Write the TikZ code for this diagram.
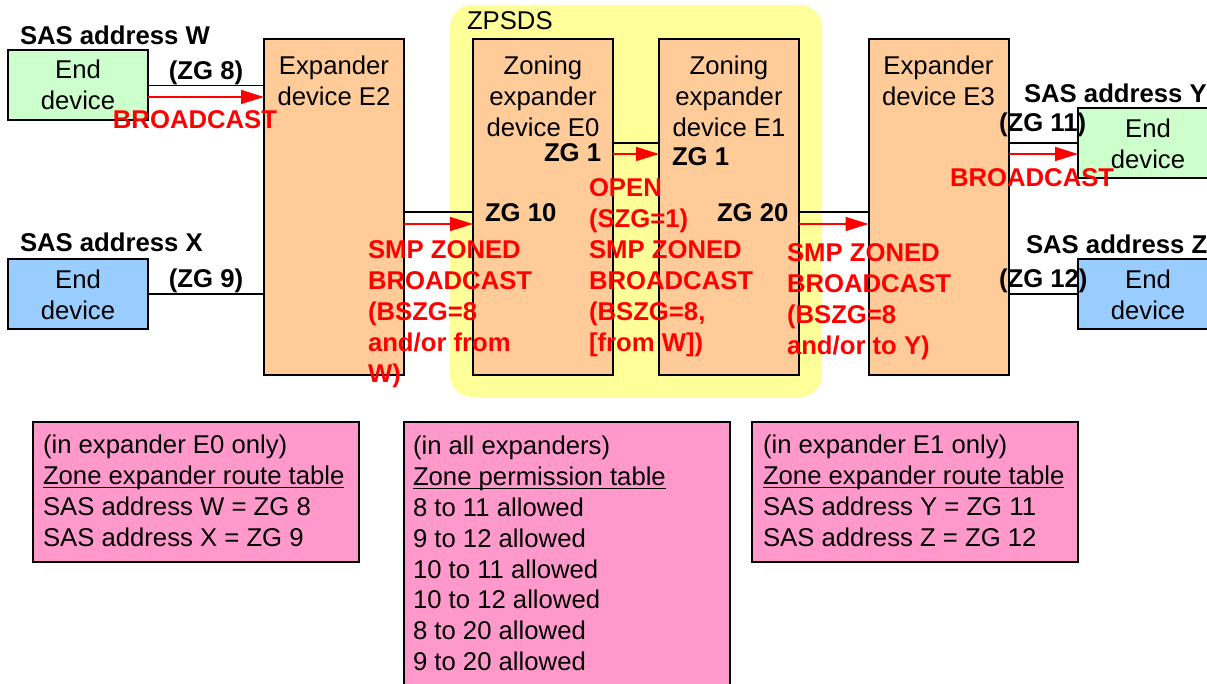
\documentclass[tikz,border=0pt]{standalone}
\usepackage{fontspec}
\setmainfont{Liberation Sans}
\usetikzlibrary{arrows.meta,calc}

\definecolor{devgreen}{HTML}{CCFFCC}
\definecolor{devblue}{HTML}{99CCFF}
\definecolor{exporange}{HTML}{FFCC99}
\definecolor{zoneyellow}{HTML}{FFFF99}
\definecolor{tablepink}{HTML}{FF99CC}
\definecolor{msgred}{HTML}{FF0000}

% stacked lines whose node baseline is the first line's baseline
\newcommand\txtlines[2]{\begin{tabular}[t]{@{}#1@{}}#2\end{tabular}}
% underline placed just under the baseline
\newcommand\uln[1]{\setbox0\hbox{#1}\rlap{\rule[-1.6pt]{\wd0}{0.7pt}}\box0}

\begin{document}
\begin{tikzpicture}[x=0.5pt,y=-0.5pt,
  every node/.style={inner sep=0pt,outer sep=0pt,
    font=\fontsize{12.85pt}{15.5pt}\selectfont},
  box/.style={draw=black,line width=1pt,minimum width=70pt},
  enddev/.style={box,minimum height=35pt},
  expbox/.style={box,fill=exporange,minimum height=168pt},
  tbl/.style={draw=black,line width=1pt,fill=tablepink,anchor=north west,
    minimum width=163pt},
  lbl/.style={anchor=base west},
  boldlbl/.style={anchor=base west,
    font=\fontsize{12.85pt}{15.5pt}\selectfont\bfseries},
  redlbl/.style={boldlbl,text=msgred},
  link/.style={line width=0.8pt,draw=black},
  msg/.style={line width=0.8pt,draw=msgred,
    -{Triangle[length=11.5pt,width=7pt]}},
]
\useasboundingbox (0,0) rectangle (1207,684);
\clip (0,0) rectangle (1207,684);

% zone permission subsystem
\node[fill=zoneyellow,rounded corners=11pt,minimum width=186pt,
  minimum height=196pt] (zpsds) at (636,201) {};
\node[lbl] (zpsdslbl) at (467,30) {ZPSDS};

% end devices
\node[enddev,fill=devgreen] (w) at (78,85.5) {};
\node[enddev,fill=devblue]  (x) at (78,294) {};
\node[enddev,fill=devgreen] (y) at (1148,143) {};
\node[enddev,fill=devblue]  (z) at (1148,294) {};

% expanders
\node[expbox] (e2) at (334,207) {};
\node[expbox] (e0) at (543,207) {};
\node[expbox] (e1) at (729,207) {};
\node[expbox] (e3) at (938.5,207) {};

% port points on the links
\coordinate (e0in) at ([yshift=-2.5pt]e0.west);
\coordinate (e1in) at ([yshift=32pt]e1.west);
\coordinate (e3in) at ([yshift=-2.5pt]e3.west);

% links
\draw[link] (w.east) -- (w.east -| e2.west);
\draw[link] (x.east) -- (x.east -| e2.west);
\draw[link] (e0in -| e2.east) -- (e0in);
\draw[link] (e1in -| e0.east) -- (e1in);
\draw[link] (e3in -| e1.east) -- (e3in);
\draw[link] (y.west -| e3.east) -- (y.west);
\draw[link] (z.west -| e3.east) -- (z.west);

% broadcast messages
\draw[msg] ([yshift=-5.75pt]w.east) -- ([yshift=-5.75pt]w.east -| e2.west);
\draw[msg] ([yshift=-6pt]e0in -| e2.east) -- ([yshift=-6pt]e0in);
\draw[msg] ([yshift=-5.5pt]e1in -| e0.east) -- ([yshift=-5.5pt]e1in);
\draw[msg] ([yshift=-6pt]e3in -| e1.east) -- ([yshift=-6pt]e3in);
\draw[msg] ([yshift=-5.5pt]y.west -| e3.east) -- ([yshift=-5.5pt]y.west);

% box captions
\node[anchor=base] (wtxt) at (78,79) {\txtlines{c}{End\\device}};
\node[anchor=base] (xtxt) at (78,289) {\txtlines{c}{End\\device}};
\node[anchor=base] (ytxt) at (1148,138) {\txtlines{c}{End\\device}};
\node[anchor=base] (ztxt) at (1148,289) {\txtlines{c}{End\\device}};
\node[anchor=base] (e2txt) at (334,75) {\txtlines{c}{Expander\\device E2}};
\node[anchor=base] (e0txt) at (543,75) {\txtlines{c}{Zoning\\expander\\device E0}};
\node[anchor=base] (e1txt) at (729,75) {\txtlines{c}{Zoning\\expander\\device E1}};
\node[anchor=base] (e3txt) at (938.5,75) {\txtlines{c}{Expander\\device E3}};

% addresses and zone groups
\node[boldlbl] (saw) at (20,45) {SAS address W};
\node[boldlbl] (sax) at (20,252) {SAS address X};
\node[boldlbl] (say) at (1024,103) {SAS address Y};
\node[boldlbl] (saz) at (1026,254) {SAS address Z};
\node[boldlbl,anchor=base] (zg8) at (206,80) {(ZG 8)};
\node[boldlbl,anchor=base] (zg9) at (206,288) {(ZG 9)};
\node[boldlbl] (zg11) at (999,132) {(ZG 11)};
\node[boldlbl] (zg12) at (999,288) {(ZG 12)};
\node[boldlbl] (zg10) at (485,222) {ZG 10};
\node[boldlbl] (zg1a) at (544,162) {ZG 1};
\node[boldlbl] (zg1b) at (672,166) {ZG 1};
\node[boldlbl] (zg20) at (717,222) {ZG 20};

% message captions
\node[redlbl,anchor=base] (bcw) at (195,129) {BROADCAST};
\node[redlbl] (bcy) at (950,187) {BROADCAST};
\node[redlbl] (smp1) at (368,259)
  {\txtlines{l}{SMP ZONED\\BROADCAST\\(BSZG=8\\and/or from\\W)}};
\node[redlbl] (smp2) at (589,197)
  {\txtlines{l}{OPEN\\(SZG=1)\\SMP ZONED\\BROADCAST\\(BSZG=8,\\{[}from W{]})}};
\node[redlbl] (smp3) at (787,262)
  {\txtlines{l}{SMP ZONED\\BROADCAST\\(BSZG=8\\and/or to Y)}};

% tables
\node[tbl,minimum height=70pt] (rt0) at (33,422) {};
\node[tbl,minimum height=139pt] (zpt) at (404,422) {};
\node[tbl,minimum height=70pt] (rt1) at (752,422) {};
\node[lbl,font=\fontsize{12.85pt}{15.4pt}\selectfont] (rt0txt) at (43,454)
  {\txtlines{l}{(in expander E0 only)\\
  \uln{Zone expander route table}\\SAS address W = ZG 8\\SAS address X = ZG 9}};
\node[lbl,font=\fontsize{12.85pt}{15.4pt}\selectfont] (zpttxt) at (413,455)
  {\txtlines{l}{(in all expanders)\\
  \uln{Zone permission table}\\8 to 11 allowed\\9 to 12 allowed\\
  10 to 11 allowed\\10 to 12 allowed\\8 to 20 allowed\\9 to 20 allowed}};
\node[lbl,font=\fontsize{12.85pt}{15.4pt}\selectfont] (rt1txt) at (763,454)
  {\txtlines{l}{(in expander E1 only)\\
  \uln{Zone expander route table}\\SAS address Y = ZG 11\\SAS address Z = ZG 12}};
\end{tikzpicture}
\end{document}
